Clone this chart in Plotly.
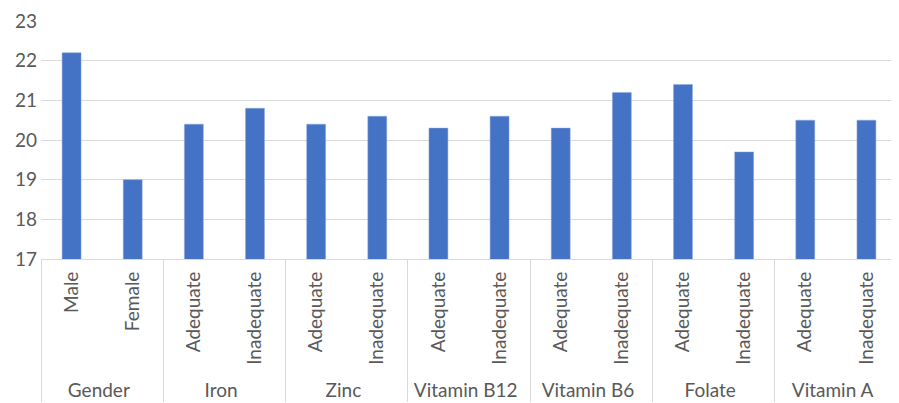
import plotly.graph_objects as go

groups = ["Gender", "Gender", "Iron", "Iron", "Zinc", "Zinc",
          "Vitamin B12", "Vitamin B12", "Vitamin B6", "Vitamin B6",
          "Folate", "Folate", "Vitamin A", "Vitamin A"]
subcats = ["Male", "Female", "Adequate", "Inadequate", "Adequate", "Inadequate",
           "Adequate", "Inadequate", "Adequate", "Inadequate",
           "Adequate", "Inadequate", "Adequate", "Inadequate"]
values = [22.2, 19.0, 20.4, 20.8, 20.4, 20.6, 20.3, 20.6, 20.3, 21.2, 21.4, 19.7, 20.5, 20.5]
y_ticks = [17, 18, 19, 20, 21, 22, 23]

font_family = "Lato, Carlito, Calibri, sans-serif"
grey = "#595959"

fig = go.Figure(go.Bar(
    x=[groups, subcats],
    y=values,
    marker=dict(color="#4472C4", line=dict(color="#8faadc", width=0.5)),
))

# page body has an 8px default margin, so the figure is sized to fit the window
fig.update_layout(
    width=891, height=395,
    margin=dict(l=33, r=2, t=13, b=144),
    plot_bgcolor="white", paper_bgcolor="white",
    bargap=0.69,
    showlegend=False,
    font=dict(family=font_family, size=19, color=grey),
)
fig.update_xaxes(
    type="multicategory",
    tickangle=-90,
    automargin=False,
    showline=True, linecolor="#d9d9d9", linewidth=1,
    showdividers=True, dividercolor="#d9d9d9", dividerwidth=1,
    ticks="", ticklabelstandoff=4,
    tickfont=dict(size=19, color=grey),
)
fig.update_yaxes(
    range=[17, 23], tickvals=y_ticks,
    automargin=False,
    showgrid=True, gridcolor="#d9d9d9", gridwidth=1,
    zeroline=False, showline=False, ticks="", ticklabelstandoff=3,
    tickfont=dict(size=19, color=grey),
)

fig.write_html("out.html")
